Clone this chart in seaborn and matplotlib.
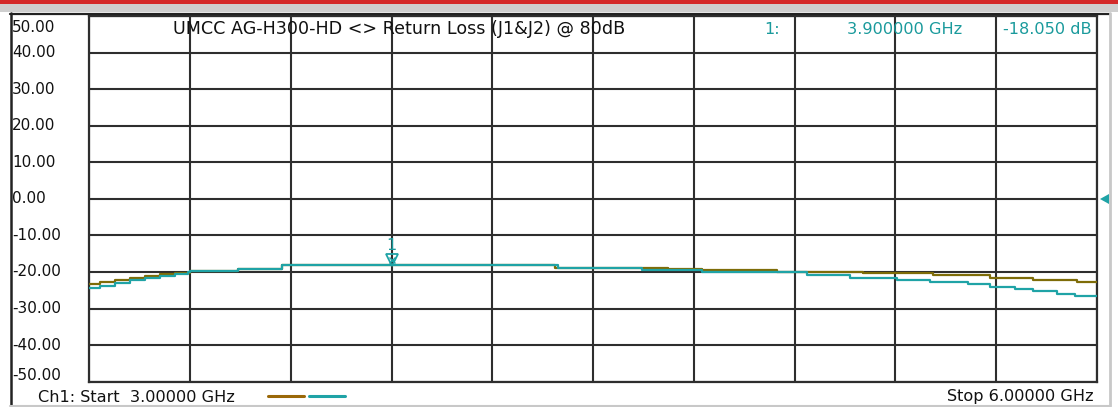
import matplotlib
matplotlib.use("Agg")
import matplotlib.pyplot as plt
import matplotlib.transforms as mtransforms
from matplotlib.patches import Rectangle, Polygon
from matplotlib.lines import Line2D
import seaborn as sns

# ---------------- data ----------------
title = "UMCC AG-H300-HD <> Return Loss (J1&J2) @ 80dB"
start_label = "Ch1: Start  3.00000 GHz"
stop_label = "Stop 6.00000 GHz"
marker_id = "1"
marker_freq = 3.9
marker_db = -18.05
marker_texts = ["1:", "3.900000 GHz", "-18.050 dB"]
y_ticks = [50, 40, 30, 20, 10, 0, -10, -20, -30, -40, -50]
y_tick_labels = ["50.00", "40.00", "30.00", "20.00", "10.00", "0.00",
                 "-10.00", "-20.00", "-30.00", "-40.00", "-50.00"]
x_ticks = [3.0, 3.3, 3.6, 3.9, 4.2, 4.5, 4.8, 5.1, 5.4, 5.7, 6.0]

teal_freq = [3.000, 3.032, 3.076, 3.121, 3.166, 3.210, 3.255, 3.294, 3.300, 3.443,
             3.573, 4.395, 4.645, 4.823, 5.136, 5.264, 5.404, 5.502, 5.615, 5.681,
             5.755, 5.809, 5.880, 5.934, 6.000]
teal_db = [-24.3, -23.7, -23.0, -22.3, -21.7, -21.1, -20.5, -20.0, -19.8, -19.1,
           -18.1, -18.8, -19.5, -20.0, -20.7, -21.6, -22.3, -22.8, -23.4, -24.0,
           -24.7, -25.3, -26.1, -26.6, -26.6]

olive_freq = [3.000, 3.032, 3.076, 3.121, 3.166, 3.210, 3.255, 3.300, 3.443, 3.573,
              4.386, 4.648, 4.722, 4.823, 5.047, 5.303, 5.511, 5.681, 5.809, 5.940,
              6.000]
olive_db = [-23.2, -22.8, -22.2, -21.6, -21.1, -20.6, -20.2, -19.6, -19.1, -18.1,
            -18.8, -18.9, -19.3, -19.5, -20.0, -20.3, -20.9, -21.6, -22.3, -22.8,
            -22.8]

# ---------------- style ----------------
TEAL = "#1fa3a6"
TEAL_TXT = "#1a9a9c"
OLIVE = "#7e6c08"
OLIVE_LEG = "#9a6808"
GRID = "#2e2e2e"
FS_TICK = 11
FS_TEXT = 11.6
FS_TITLE = 12.6

sns.set_theme(style="white")
plt.rcParams["font.family"] = ["DejaVu Sans"]

W, H = 1118, 407
fig = plt.figure(figsize=(W / 100, H / 100), dpi=100, facecolor="white")


def fx(x):
    return x / W


def fy(y):
    return 1 - y / H


# plot area in pixels
L, R, T, B = 89.3, 1097.0, 16.5, 381.5
ax = fig.add_axes([fx(L), fy(B), fx(R - L), (B - T) / H])
ax.set_facecolor("white")

sns.lineplot(x=olive_freq, y=olive_db, ax=ax, color=OLIVE, lw=1.6,
             drawstyle="steps-post", estimator=None, sort=False, zorder=3)
sns.lineplot(x=teal_freq, y=teal_db, ax=ax, color=TEAL, lw=1.6,
             drawstyle="steps-post", estimator=None, sort=False, zorder=4)

ax.set_xlim(x_ticks[0], x_ticks[-1])
ax.set_ylim(y_ticks[-1], y_ticks[0])
ax.set_xticks(x_ticks)
ax.set_yticks(y_ticks)
ax.set_xticklabels([])
ax.set_yticklabels([])
ax.tick_params(length=0)
ax.grid(True, color=GRID, lw=1.5, zorder=1)
ax.set_axisbelow(True)
for s in ax.spines.values():
    s.set_visible(True)
    s.set_color(GRID)
    s.set_linewidth(1.6)
ax.set_xlabel("")
ax.set_ylabel("")

# marker 1
off = mtransforms.offset_copy(ax.transData, fig=fig, x=0, y=5, units="dots")
ax.plot([marker_freq], [marker_db], marker="v", ms=8, mfc="none", mec=TEAL,
        mew=1.3, transform=off, zorder=6, ls="none")
ax.plot([marker_freq], [marker_db], marker="x", ms=4, mec=TEAL, mew=1.0,
        transform=off, zorder=6, ls="none")
ax.annotate(marker_id, (marker_freq, marker_db), xytext=(0, 14),
            textcoords="offset points", ha="center", va="center",
            color=TEAL_TXT, fontsize=FS_TEXT)

# y tick labels (left aligned at left frame)
label_trans = mtransforms.blended_transform_factory(fig.transFigure, ax.transData)
for v, lab in zip(y_ticks, y_tick_labels):
    dy = 0
    if v == y_ticks[0]:
        dy = -11
    elif v == y_ticks[-1]:
        dy = 6
    t = mtransforms.offset_copy(label_trans, fig=fig, x=0, y=dy, units="dots")
    ax.text(fx(12), v, lab, transform=t, ha="left", va="center",
            fontsize=FS_TICK, color="#111111", clip_on=False)

# title and marker readout
fig.text(fx(173), fy(29), title, ha="left", va="center", fontsize=FS_TITLE,
         color="#111111")
rights = [780, 962, 1092]
for txt, r in zip(marker_texts, rights):
    fig.text(fx(r), fy(29), txt, ha="right", va="center", fontsize=FS_TEXT,
             color=TEAL_TXT)

# bottom texts and legend lines
fig.text(fx(38), fy(397), start_label, ha="left", va="center", fontsize=FS_TEXT,
         color="#111111")
fig.text(fx(1094), fy(397), stop_label, ha="right", va="center", fontsize=FS_TEXT,
         color="#111111")
fig.add_artist(Line2D([fx(268), fx(304)], [fy(396), fy(396)], color=OLIVE_LEG,
                      lw=2.2, transform=fig.transFigure))
fig.add_artist(Line2D([fx(309), fx(345)], [fy(396), fy(396)], color=TEAL,
                      lw=2.2, transform=fig.transFigure))

# window chrome
fig.add_artist(Rectangle((0, fy(4)), 1, 4 / H, transform=fig.transFigure,
                         color="#d42a2a", lw=0))
fig.add_artist(Rectangle((0, fy(12)), 1, 8 / H, transform=fig.transFigure,
                         color="#cfcfcf", lw=0))
fig.add_artist(Line2D([fx(10), fx(1110)], [fy(14), fy(14)], color="#222222",
                      lw=1.6, transform=fig.transFigure))
fig.add_artist(Line2D([fx(11), fx(11)], [fy(13), fy(406)], color="#222222",
                      lw=1.8, transform=fig.transFigure))
fig.add_artist(Line2D([fx(1110), fx(1110)], [fy(13), fy(406)], color="#c8c8c8",
                      lw=2.0, transform=fig.transFigure))
fig.add_artist(Line2D([fx(10), fx(1110)], [fy(405.5), fy(405.5)], color="#c8c8c8",
                      lw=1.5, transform=fig.transFigure))
# reference level arrow on right
ref_y = 199.0
fig.add_artist(Polygon([[fx(1100), fy(ref_y)], [fx(1109), fy(ref_y - 5)],
                        [fx(1109), fy(ref_y + 5)]], closed=True,
                       transform=fig.transFigure, color=TEAL, lw=0))

fig.savefig("out.png", dpi=100, facecolor="white")
